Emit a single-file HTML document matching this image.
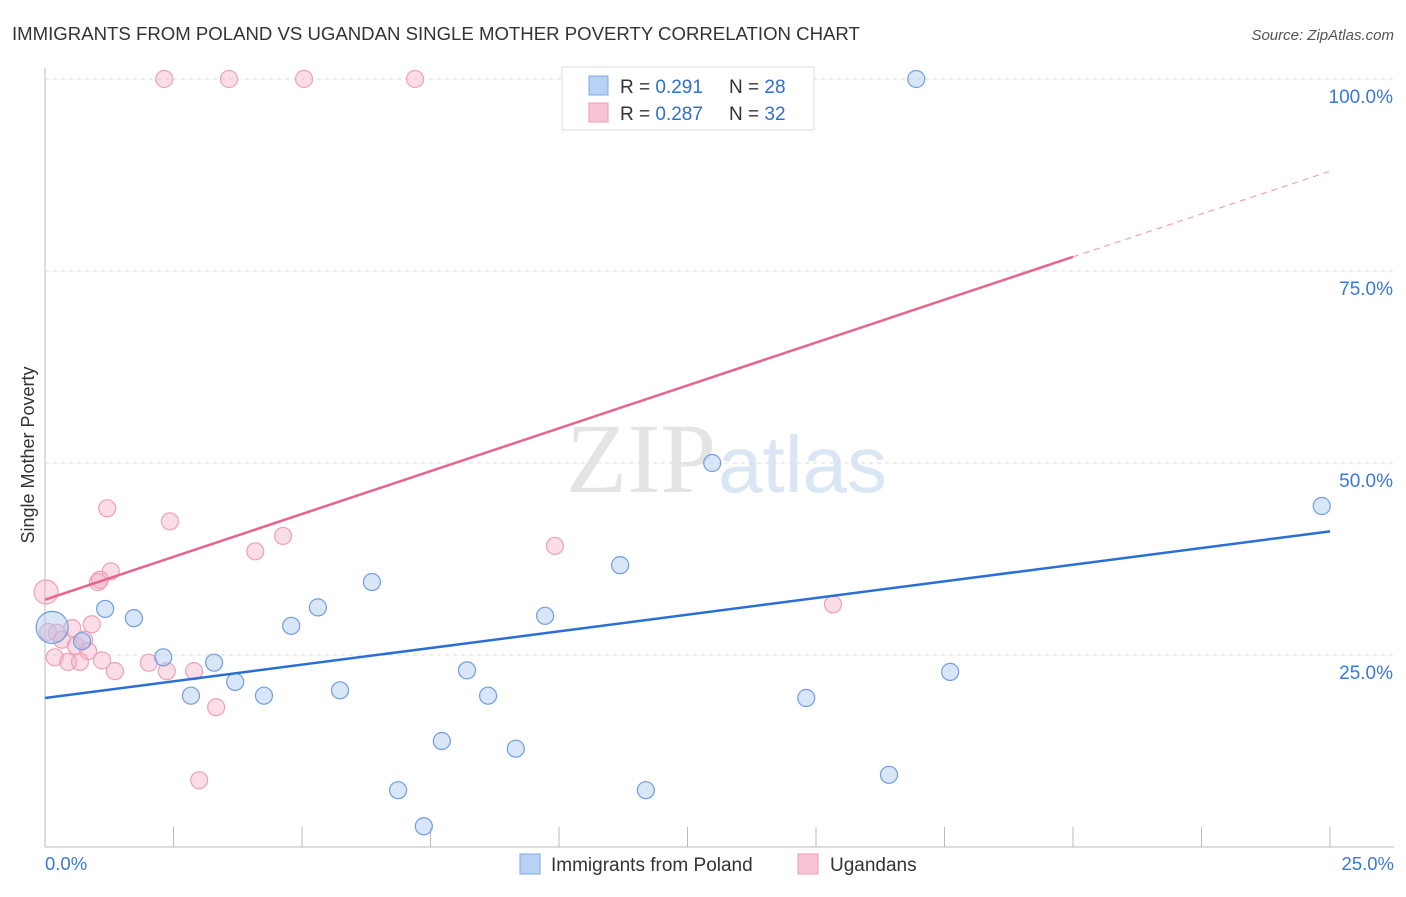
<!DOCTYPE html>
<html><head><meta charset="utf-8"><style>
body{margin:0;background:#fff;font-family:"Liberation Sans",sans-serif}
</style></head><body>
<svg id="c" width="1406" height="892" xmlns="http://www.w3.org/2000/svg" style="font-family:'Liberation Sans',sans-serif">
<text x="12" y="40" font-size="18.6" fill="#333">IMMIGRANTS FROM POLAND VS UGANDAN SINGLE MOTHER POVERTY CORRELATION CHART</text>
<text x="1394" y="40" font-size="15" fill="#555" text-anchor="end" font-style="italic">Source: ZipAtlas.com</text>
<text x="34" y="455" font-size="18" fill="#333" text-anchor="middle" transform="rotate(-90 34 455)">Single Mother Poverty</text>
<text x="716" y="492" font-size="100" fill="#e4e4e4" text-anchor="end" font-family="Liberation Serif,serif">ZIP</text>
<text x="718" y="492" font-size="80" fill="#dbe6f5">atlas</text>
<g id="grid"></g><g id="pts"></g><g id="lines"></g>
<g>
<rect x="562" y="67" width="252" height="63" fill="#fff" stroke="#ddd"/>
<rect x="589" y="76" width="19" height="19" fill="#b8d2f5" stroke="#7fa8e0"/>
<rect x="589" y="103" width="19" height="19" fill="#f9c4d3" stroke="#ee9ab4"/>
<text x="620" y="93" font-size="19" fill="#333">R = <tspan fill="#2f6fd1">0.291</tspan></text>
<text x="729" y="93" font-size="19" fill="#333">N = <tspan fill="#2f6fd1">28</tspan></text>
<text x="620" y="120" font-size="19" fill="#333">R = <tspan fill="#2f6fd1">0.287</tspan></text>
<text x="729" y="120" font-size="19" fill="#333">N = <tspan fill="#2f6fd1">32</tspan></text>
</g>
<g>
<rect x="520" y="854" width="20" height="20" fill="#b8d2f5" stroke="#7fa8e0"/>
<text x="551" y="871" font-size="19" fill="#333">Immigrants from Poland</text>
<rect x="798" y="854" width="20" height="20" fill="#f9c4d3" stroke="#ee9ab4"/>
<text x="830" y="871" font-size="19" fill="#333">Ugandans</text>
</g>
</svg>
<script>
const xTicks=[0,2.5,5,7.5,10,12.5,15,17.5,20,22.5,25];
const yTicks=[25,50,75,100];
const yTickLabels=["25.0%","50.0%","75.0%","100.0%"];
const xEndLabels=["0.0%","25.0%"];
const polandX=[0.14,1.17,1.73,0.72,2.30,2.84,3.29,3.70,4.26,4.79,5.31,5.74,6.36,6.87,7.37,7.72,8.21,8.62,9.16,9.73,11.19,11.69,12.98,14.81,16.42,16.95,17.61,24.84];
const polandY=[28.6,31.0,29.8,26.8,24.7,19.7,24.0,21.5,19.7,28.8,31.2,20.4,34.5,7.4,2.7,13.8,23.0,19.7,12.8,30.1,36.7,7.4,50.0,19.4,9.4,100,22.8,44.4];
const ugandaX=[2.32,3.58,5.04,7.20,0.02,1.21,2.43,4.09,4.63,9.92,1.28,1.03,0.91,0.53,0.23,0.33,0.60,0.84,0.19,0.45,0.68,1.11,1.36,2.02,2.37,2.90,3.33,3.00,15.33,0.06,1.07,0.76];
const ugandaY=[100,100,100,100,33.2,44.1,42.4,38.5,40.5,39.2,35.9,34.5,29.0,28.5,27.9,27.0,26.2,25.5,24.7,24.1,24.1,24.3,22.9,24.0,22.9,22.9,18.2,8.7,31.6,28.0,34.8,27.0];
const polandTrend=[19.4,41.1];
const ugandaTrend=[32.2,88.0];
const ugandaSolidEnd=20.0;
const sx=v=>45+v/25*1285, sy=v=>847-v*7.68;
const NS="http://www.w3.org/2000/svg";
function mk(t,a,p){const e=document.createElementNS(NS,t);for(const k in a)e.setAttribute(k,a[k]);p.appendChild(e);return e;}
const svg=document.getElementById('c'),grid=document.getElementById('grid'),pts=document.getElementById('pts'),lines=document.getElementById('lines');
let ax=mk('line',{x1:45,y1:68,x2:45,y2:847,stroke:'#bbb'},grid);


let bx=mk('line',{x1:45,y1:847,x2:1394,y2:847,stroke:'#bbb'},grid);


yTicks.forEach((v,i)=>{
 const g=mk('line',{x1:45,y1:sy(v),x2:1394,y2:sy(v),stroke:'#ddd','stroke-dasharray':'4 4'},grid);
 
 
 const t=mk('text',{x:1393,y:sy(v)+24,'font-size':19,fill:'#3a78d8','text-anchor':'end'},grid);t.textContent=yTickLabels[i];
 
 
});
xTicks.forEach(v=>{const l=mk('line',{x1:sx(v),y1:827,x2:sx(v),y2:847,stroke:'#bbb'},grid);
 
 });
[[0,'start',45],[25,'end',1394]].forEach((d,i)=>{const t=mk('text',{x:d[2],y:870,'font-size':18.5,fill:'#3a78d8','text-anchor':d[1]},grid);t.textContent=xEndLabels[i];
 
 });
ugandaX.forEach((x,i)=>{const r=(i==4)?12:8.5;const c=mk('circle',{cx:sx(x),cy:sy(ugandaY[i]),r:r,fill:'rgba(246,170,194,0.4)',stroke:'#f0a0b8','stroke-width':1.2},pts);
 
 });
polandX.forEach((x,i)=>{const r=(i==0)?16:8.5;const c=mk('circle',{cx:sx(x),cy:sy(polandY[i]),r:r,fill:'rgba(170,200,240,0.45)',stroke:'#6f9ee0','stroke-width':1.2},pts);
 
 });
let pl=mk('line',{x1:sx(0),y1:sy(polandTrend[0]),x2:sx(25),y2:sy(polandTrend[1]),stroke:'#2a6fd6','stroke-width':2.5},lines);


const uy=x=>ugandaTrend[0]+(ugandaTrend[1]-ugandaTrend[0])*x/25;
let ul=mk('line',{x1:sx(0),y1:sy(uy(0)),x2:sx(ugandaSolidEnd),y2:sy(uy(ugandaSolidEnd)),stroke:'#e8648f','stroke-width':2.5},lines);


let ud=mk('line',{x1:sx(ugandaSolidEnd),y1:sy(uy(ugandaSolidEnd)),x2:sx(25),y2:sy(uy(25)),stroke:'#f0a0b8','stroke-width':1.2,'stroke-dasharray':'6 5'},lines);


</script>
</body></html>
